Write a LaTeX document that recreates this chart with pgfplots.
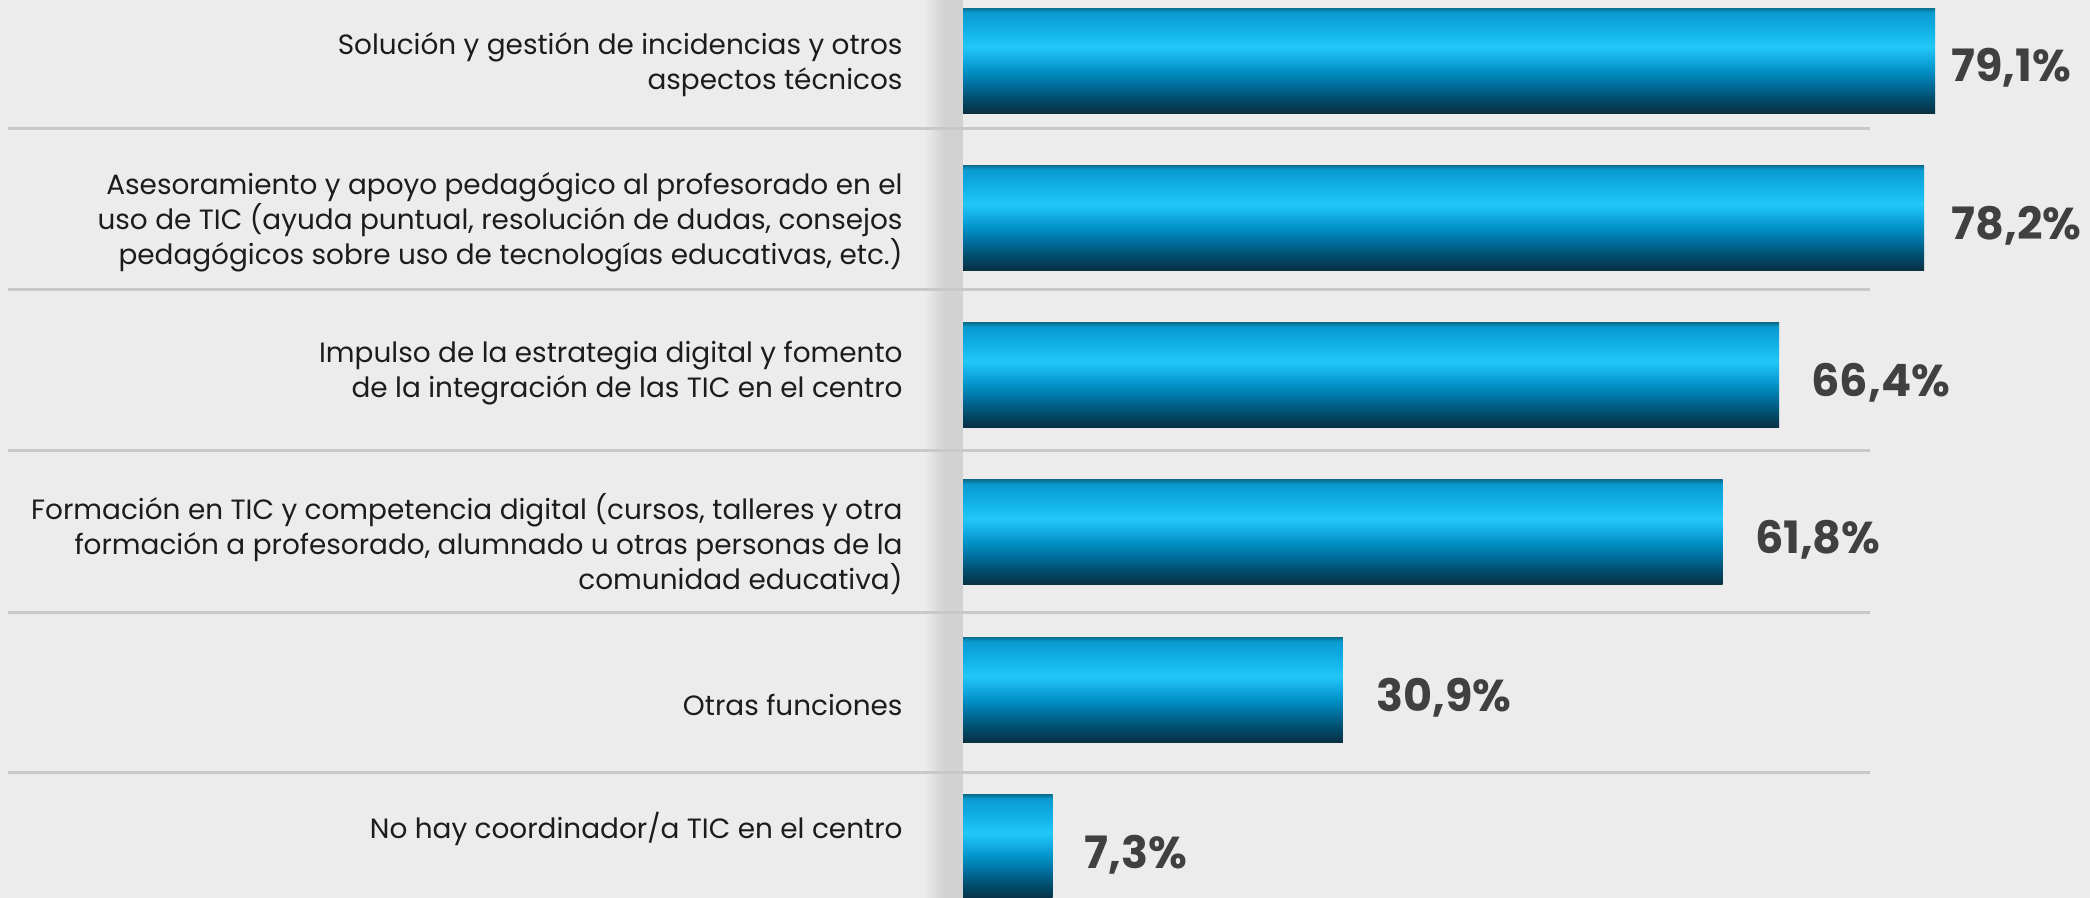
\documentclass[border=0pt]{standalone}
\usepackage{fontspec}
\setmainfont{Poppins}
\usepackage{pgfplots}
\pgfplotsset{compat=1.18}
\definecolor{bgc}{RGB}{236,236,236}
\definecolor{shadowc}{RGB}{210,210,210}
\definecolor{sepc}{RGB}{200,200,200}
\definecolor{labc}{RGB}{28,28,28}
\definecolor{valc}{RGB}{64,64,64}
\definecolor{b0}{RGB}{10,48,64}
\definecolor{b1}{RGB}{5,58,82}
\definecolor{b2}{RGB}{0,80,112}
\definecolor{b3}{RGB}{0,112,160}
\definecolor{b4}{RGB}{0,144,196}
\definecolor{b5}{RGB}{16,168,224}
\definecolor{b6}{RGB}{34,200,248}
\definecolor{b7}{RGB}{16,176,229}
\definecolor{b8}{RGB}{10,154,208}
\definecolor{b9}{RGB}{10,112,144}
\pgfdeclareverticalshading{barshade}{100bp}{color(0bp)=(b0); color(25bp)=(b0); color(27.5bp)=(b1); color(32.5bp)=(b2); color(39bp)=(b3); color(45bp)=(b4); color(50bp)=(b5); color(56.5bp)=(b6); color(65bp)=(b7); color(73bp)=(b8); color(75bp)=(b9); color(100bp)=(b9)}
\pgfplotsset{mybar/.style={xbar, bar width=0.6675, bar shift=0pt, draw=none, shading=barshade}}
\begin{document}
\begin{tikzpicture}[x=0.4bp,y=0.4bp]
\fill[bgc] (0,0) rectangle (2090,898);
\shade[left color=bgc, right color=shadowc] (924,0) rectangle (944,898);
\fill[shadowc] (944,0) rectangle (963,898);
\begin{axis}[
  at={(385.2bp,0bp)}, anchor=south west,
  scale only axis, width=450.8bp, height=359.2bp,
  xmin=0, xmax=91.70, ymin=0.615, ymax=6.324,
  y dir=reverse, enlargelimits=false, clip=false,
  axis line style={draw=none},
  xtick=\empty, major tick length=0pt,
  ytick={1.003,2.001,2.961,4.048,5.071,5.860},
  yticklabels={
    {Solución y gestión de incidencias y otros\\aspectos técnicos},
    {Asesoramiento y apoyo pedagógico al profesorado en el\\uso de TIC (ayuda puntual, resolución de dudas, consejos\\pedagógicos sobre uso de tecnologías educativas, etc.)},
    {Impulso de la estrategia digital y fomento\\de la integración de las TIC en el centro},
    {Formación en TIC y competencia digital (cursos, talleres y otra\\formación a profesorado, alumnado u otras personas de la\\comunidad educativa)},
    {Otras funciones},
    {No hay coordinador/a TIC en el centro}},
  yticklabel style={align=right, anchor=east, inner sep=0pt, xshift=-24bp, yshift=-1.6bp,
    font=\fontsize{11.2}{14}\selectfont, text=labc},
]
\draw[sepc, line width=1.2bp] (axis cs:-77.7,1.429) -- (axis cs:73.8,1.429);
\draw[sepc, line width=1.2bp] (axis cs:-77.7,2.453) -- (axis cs:73.8,2.453);
\draw[sepc, line width=1.2bp] (axis cs:-77.7,3.482) -- (axis cs:73.8,3.482);
\draw[sepc, line width=1.2bp] (axis cs:-77.7,4.506) -- (axis cs:73.8,4.506);
\draw[sepc, line width=1.2bp] (axis cs:-77.7,5.523) -- (axis cs:73.8,5.523);
\addplot[mybar] coordinates {(79.1,1)};
\addplot[mybar] coordinates {(78.2,2)};
\addplot[mybar] coordinates {(66.4,3)};
\addplot[mybar] coordinates {(61.8,4)};
\addplot[mybar] coordinates {(30.9,5)};
\addplot[mybar] coordinates {(7.3,6)};
\addplot[draw=none, mark=none, point meta=explicit symbolic,
  nodes near coords={\pgfplotspointmeta\%},
  nodes near coords align={anchor=west},
  every node near coord/.append style={anchor=west, inner sep=0pt, yshift=-3bp,
    font=\fontsize{17.9}{20}\selectfont\bfseries, text=valc}]
  table[meta=lab] {
x y lab
80.4 1 79,1
80.4 2 78,2
69.0 3 66,4
64.4 4 61,8
33.6 5 30,9
9.85 6 7,3
};
\end{axis}
\pgfresetboundingbox
\path[use as bounding box] (0,0) rectangle (2090,898);
\end{tikzpicture}
\end{document}
